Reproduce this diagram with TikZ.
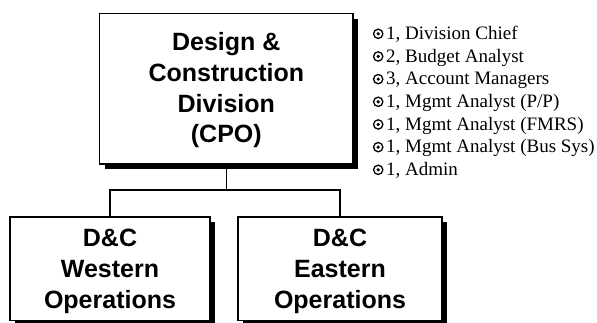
\documentclass[tikz,border=0pt]{standalone}
\usepackage{fontspec}
\setmainfont{Liberation Serif}
\newfontfamily\boxfont{Liberation Sans}
\usetikzlibrary{shadows}
\begin{document}
\begin{tikzpicture}[x=1pt,y=-1pt,
  unitbox/.style={draw=black, line width=1.4pt, fill=white, inner sep=0pt,
    outer sep=0pt,
    drop shadow={shadow xshift=5pt, shadow yshift=-5pt, fill=black, opacity=1}},
  unittext/.style={align=center, inner sep=0pt,
    font=\boxfont\bfseries\fontsize{25}{30.8}\selectfont},
  link/.style={line width=1.4pt, draw=black},
  staff/.style={anchor=base west, inner sep=0pt,
    font=\fontsize{19}{22.67}\selectfont},
  bulletmark/.style={circle, draw=black, line width=1.3pt, minimum size=9.3pt,
    inner sep=0pt,
    path picture={\fill (path picture bounding box.center) circle (1.8pt);}}
]
\useasboundingbox (0,0) rectangle (597,322);

% division box and its two operations units
\node[unitbox, minimum width=253.5pt, minimum height=150.5pt] (cpo) at (226.3,88.8) {};
\node[unitbox, minimum width=200pt, minimum height=103.7pt] (west) at (110,268.9) {};
\node[unitbox, minimum width=204pt, minimum height=103.7pt] (east) at (340,268.9) {};

\node[unittext] (cpotext) at (226.3,90.3) {Design \&\\Construction\\Division\\(CPO)};
\node[unittext] (westtext) at (110,271.6) {D\&C\\Western\\Operations};
\node[unittext] (easttext) at (340,271.6) {D\&C\\Eastern\\Operations};

% reporting lines
\coordinate (bus) at (226.3,190);
\draw[link] (cpo.south) -- (bus) -| (west.north);
\draw[link] (bus) -| (east.north);

% staff list
\foreach \txt [count=\i] in {{1, Division Chief},{2, Budget Analyst},
    {3, Account Managers},{1, Mgmt Analyst (P/P)},{1, Mgmt Analyst (FMRS)},
    {1, Mgmt Analyst (Bus Sys)},{1, Admin}}{
  \node[staff] (s\i) at (386,{39.6+22.67*(\i-1)}) {\txt};
  \node[bulletmark] (b\i) at (378.2,{33.8+22.67*(\i-1)}) {};
}
\end{tikzpicture}
\end{document}
